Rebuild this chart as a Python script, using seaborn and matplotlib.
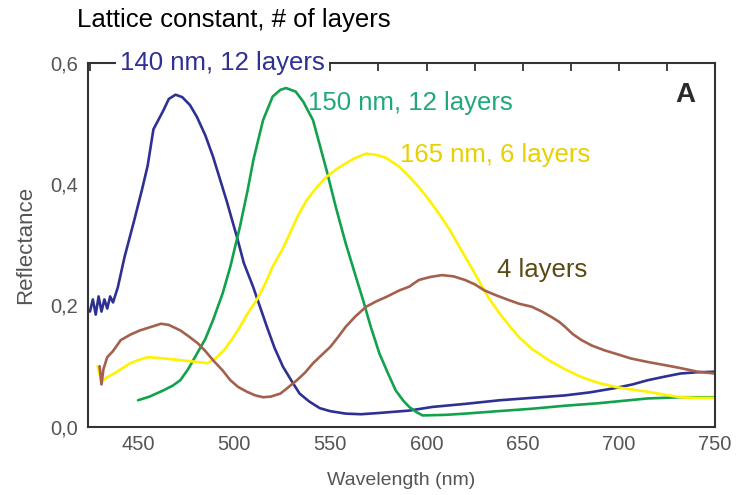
import numpy as np
import pandas as pd
import matplotlib
matplotlib.use("Agg")
import matplotlib.pyplot as plt
from matplotlib.ticker import MultipleLocator, FuncFormatter
import seaborn as sns

# --- data ---
wl_140 = [425, 426.5, 428, 429.5, 431, 432.5, 434, 435.5, 437, 439.5, 443, 448, 452, 455, 458, 463, 466, 469.5,
          473, 477, 480.7, 485, 489, 496, 501.4, 505, 509.8, 517, 521, 525.4, 530, 534, 539,
          544.5, 550, 558, 566, 575, 583, 591, 603, 620, 638, 655, 672, 685, 698, 707, 715,
          724, 732, 740, 750]
r_140 = [0.19, 0.21, 0.185, 0.215, 0.19, 0.21, 0.195, 0.215, 0.205, 0.23, 0.28, 0.34, 0.39, 0.43, 0.49, 0.52, 0.54, 0.547,
         0.543, 0.53, 0.51, 0.48, 0.445, 0.373, 0.313, 0.27, 0.231, 0.165, 0.13, 0.099, 0.075, 0.055, 0.042,
         0.031, 0.026, 0.022, 0.021, 0.023, 0.025, 0.027, 0.033, 0.038, 0.044, 0.048, 0.052, 0.057, 0.064, 0.07, 0.077,
         0.083, 0.088, 0.090, 0.091]

wl_150 = [450, 456, 463, 468, 472, 476, 480.7, 485, 489, 494, 498, 503, 507, 510, 515, 520, 524, 527,
          532, 536, 541, 548, 553, 558, 563, 567, 571, 575.5, 580, 584, 588, 591, 595, 598, 610,
          620, 637, 654.7, 672, 689, 702, 715, 732, 750]
r_150 = [0.044, 0.05, 0.06, 0.068, 0.077, 0.095, 0.121, 0.145, 0.176, 0.22, 0.264, 0.33, 0.39, 0.44, 0.505, 0.544, 0.555, 0.558,
         0.552, 0.535, 0.505, 0.423, 0.36, 0.302, 0.25, 0.209, 0.165, 0.121, 0.088, 0.06, 0.043, 0.033, 0.024, 0.019, 0.02,
         0.022, 0.026, 0.03, 0.035, 0.039, 0.043, 0.047, 0.049, 0.049]

wl_165 = [429, 431, 434, 437.6, 442, 446, 450, 455, 463, 472, 481, 486, 490, 494.6, 499, 503, 507, 511.7,
          516, 520, 525, 529, 533, 537.6, 543, 548, 553, 558, 563, 568.6, 574, 579, 586, 591, 596,
          601, 606.5, 612, 617, 622, 627, 632, 638, 643, 648, 655, 663.5, 672, 680.6, 689, 698, 706, 715,
          724, 732, 741, 750]
r_165 = [0.10, 0.075, 0.082, 0.088, 0.097, 0.105, 0.11, 0.115, 0.113, 0.11, 0.107, 0.105, 0.112, 0.126, 0.145, 0.165, 0.187, 0.209,
         0.235, 0.264, 0.292, 0.319, 0.347, 0.373, 0.395, 0.412, 0.424, 0.434, 0.443, 0.45, 0.448, 0.443, 0.428, 0.412, 0.395,
         0.375, 0.351, 0.325, 0.297, 0.27, 0.242, 0.214, 0.187, 0.167, 0.148, 0.128, 0.11, 0.095, 0.082, 0.073, 0.066, 0.062, 0.058,
         0.053, 0.049, 0.048, 0.048]

wl_4 = [430, 431, 432, 434, 437, 441, 446, 451, 457, 462, 466, 472, 476, 481, 485, 489, 494, 498, 502,
        506.6, 511, 515, 519, 524, 528, 532.6, 537, 541, 546, 550, 554, 558, 563, 568.6, 574, 579, 586,
        591, 596, 602, 608, 614, 620, 625, 630, 636, 642.7, 648, 654.7, 660, 665, 669, 672, 676, 680.6,
        686, 692.7, 699, 706, 715, 723.7, 732, 741, 750]
r_4 = [0.10, 0.07, 0.095, 0.115, 0.125, 0.143, 0.152, 0.159, 0.165, 0.17, 0.168, 0.159, 0.15, 0.138, 0.125, 0.11, 0.093, 0.077, 0.066,
       0.058, 0.052, 0.049, 0.05, 0.055, 0.065, 0.077, 0.09, 0.105, 0.12, 0.132, 0.148, 0.165, 0.182, 0.198, 0.207, 0.214, 0.225,
       0.231, 0.242, 0.247, 0.25, 0.248, 0.242, 0.235, 0.225, 0.217, 0.209, 0.203, 0.198, 0.19, 0.181, 0.173, 0.165, 0.153, 0.143,
       0.134, 0.126, 0.12, 0.113, 0.107, 0.102, 0.097, 0.091, 0.088]

series = ["140 nm, 12 layers", "150 nm, 12 layers", "165 nm, 6 layers", "4 layers"]
line_colors = ["#2e3192", "#12a24e", "#fff200", "#a3614d"]
text_colors = ["#2e3192", "#20a878", "#e8d000", "#5a4b12"]

df = pd.concat([
    pd.DataFrame({"Wavelength": wl_140, "Reflectance": r_140, "curve": series[0]}),
    pd.DataFrame({"Wavelength": wl_150, "Reflectance": r_150, "curve": series[1]}),
    pd.DataFrame({"Wavelength": wl_165, "Reflectance": r_165, "curve": series[2]}),
    pd.DataFrame({"Wavelength": wl_4, "Reflectance": r_4, "curve": series[3]}),
], ignore_index=True)

sns.set_style("white")
plt.rcParams["font.family"] = ["Liberation Sans", "DejaVu Sans"]

fig = plt.figure(figsize=(7.36, 4.95), dpi=100)
ax = fig.add_axes([0.1196, 0.1374, 0.8519, 0.7363])

sns.lineplot(data=df, x="Wavelength", y="Reflectance", hue="curve", palette=line_colors,
             hue_order=series, sort=False, estimator=None, linewidth=1.9, legend=False, ax=ax)

ax.set_xlim(424, 750)
ax.set_ylim(0, 0.6)
ax.xaxis.set_major_locator(MultipleLocator(50))
ax.xaxis.set_minor_locator(MultipleLocator(25))
ax.yaxis.set_major_locator(MultipleLocator(0.2))
ax.yaxis.set_minor_locator(MultipleLocator(0.1))
ax.yaxis.set_major_formatter(FuncFormatter(lambda v, p: f"{v:.1f}".replace(".", ",")))
ax.tick_params(which="both", direction="in", top=True, right=False, length=6, width=1.3,
               colors="#333333", labelsize=14.5, labelcolor="#555555")
ax.tick_params(axis="x", which="major", pad=6)
ax.tick_params(axis="y", which="major", pad=7)
for s in ax.spines.values():
    s.set_color("#333333")
    s.set_linewidth(1.5)
ax.set_xlabel("Wavelength (nm)", fontsize=14, color="#555555", labelpad=13)
ax.set_ylabel("Reflectance", fontsize=16, color="#555555", labelpad=10)

fig.text(0.105, 0.96, "Lattice constant, # of layers", fontsize=18.5, color="black", va="center")
ax.text(0.051, 1.0, series[0], transform=ax.transAxes, fontsize=18.5, color=text_colors[0],
        va="center", ha="left", zorder=10, clip_on=False,
        bbox=dict(facecolor="white", edgecolor="none", pad=3))
ax.text(538.5, 0.534, series[1], fontsize=18.5, color=text_colors[1], va="center", ha="left")
ax.text(586, 0.448, series[2], fontsize=18.5, color=text_colors[2], va="center", ha="left")
ax.text(636.5, 0.259, series[3], fontsize=18.5, color=text_colors[3], va="center", ha="left")
ax.text(0.953, 0.912, "A", transform=ax.transAxes, fontsize=20, fontweight="bold",
        color="#2a2a2a", ha="center", va="center")

fig.savefig("out.png", dpi=100)
